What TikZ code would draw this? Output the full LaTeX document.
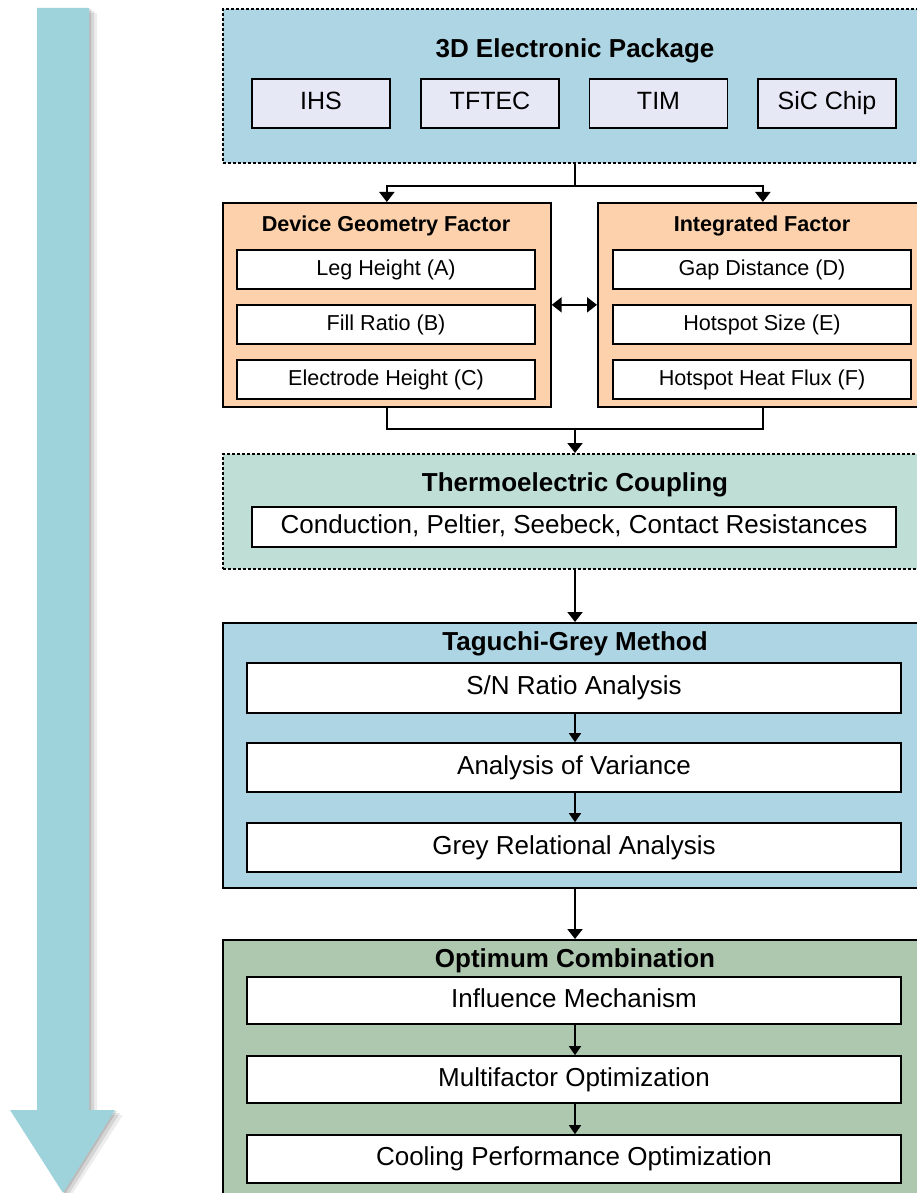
\documentclass[tikz,border=0pt]{standalone}
\usepackage{fontspec}
\setmainfont{Liberation Sans}
\usetikzlibrary{arrows.meta}
\definecolor{pkgblue}{HTML}{AED5E3}
\definecolor{tilelav}{HTML}{E6E8F6}
\definecolor{peach}{HTML}{FDD1AB}
\definecolor{mint}{HTML}{BFDED6}
\definecolor{optgreen}{HTML}{AEC7AF}
\definecolor{flowarrow}{HTML}{9ED3DC}
\begin{document}
\begin{tikzpicture}[x=1pt,y=-1pt,
  outerbox/.style={draw=black, line width=1.7pt, anchor=north west, inner sep=0pt},
  dashbox/.style={outerbox, line width=1.6pt, dash pattern=on 3pt off 2pt},
  tilebox/.style={draw=black, line width=1.6pt, fill=white, inner sep=0pt, align=center},
  big/.style={font=\fontsize{26}{30}\selectfont, text height=18.7pt, text depth=5.5pt},
  mid/.style={font=\fontsize{25}{28}\selectfont, text height=18pt, text depth=5.3pt},
  small/.style={font=\fontsize{21.6}{24}\selectfont, text height=15.5pt, text depth=4.5pt},
  toptile/.style={tilebox, mid, fill=tilelav, minimum width=138pt, minimum height=49pt},
  facttile/.style={tilebox, small, minimum width=298pt, minimum height=39pt},
  bigtile/.style={tilebox, big, minimum width=654pt},
  bigtitle/.style={big, font=\bfseries\fontsize{26}{30}\selectfont, inner sep=0pt},
  facttitle/.style={small, font=\bfseries\fontsize{21.6}{24}\selectfont, inner sep=0pt},
  conn/.style={line width=2pt, draw=black},
  arr/.style={conn, -{Triangle[width=15pt,length=10pt]}},
  smallarr/.style={line width=1.3pt, -{Triangle[width=12pt,length=9pt]}},
  dblarr/.style={conn, {Triangle[width=15pt,length=10pt]}-{Triangle[width=15pt,length=10pt]}}
]
\useasboundingbox (0,0) rectangle (917,1193);

% left flow arrow with soft shadow
\fill[black, opacity=0.07] (44,13) -- (97,13) -- (97,1115) -- (123,1115) -- (69,1199) -- (16,1115) -- (44,1115) -- cycle;
\fill[black, opacity=0.10] (41,11) -- (94,11) -- (94,1113) -- (120,1113) -- (67,1197) -- (14,1113) -- (41,1113) -- cycle;
\fill[black, opacity=0.12] (39,9) -- (91,9) -- (91,1111) -- (117,1111) -- (65,1194) -- (12,1111) -- (39,1111) -- cycle;
\fill[flowarrow] (37,8) -- (89,8) -- (89,1110) -- (115,1110) -- (63,1193) -- (10,1110) -- (37,1110) -- cycle;

% 3D Electronic Package
\node[dashbox, fill=pkgblue, minimum width=706pt, minimum height=154pt] (pkg) at (222,8) {};
\node[bigtitle] (pkgT) at (575,51) {3D Electronic Package};
\node[toptile] (ihs) at (321,103.5) {IHS};
\node[toptile] (tftec) at (490,103.5) {TFTEC};
\node[toptile] (tim) at (658.5,103.5) {TIM};
\node[toptile] (sic) at (827,103.5) {SiC Chip};

% factor boxes
\node[outerbox, fill=peach, minimum width=328pt, minimum height=204pt] (geo) at (222,202) {};
\node[facttitle] (geoT) at (386,226) {Device Geometry Factor};
\node[facttile] (legA) at (386,269.5) {Leg Height (A)};
\node[facttile] (fillB) at (386,324.5) {Fill Ratio (B)};
\node[facttile] (elecC) at (386,379.5) {Electrode Height (C)};

\node[outerbox, fill=peach, minimum width=330pt, minimum height=204pt] (intg) at (597,202) {};
\node[facttitle] (intgT) at (762,226) {Integrated Factor};
\node[facttile] (gapD) at (762,269.5) {Gap Distance (D)};
\node[facttile] (hsE) at (762,324.5) {Hotspot Size (E)};
\node[facttile] (hfF) at (762,379.5) {Hotspot Heat Flux (F)};

% thermoelectric coupling
\node[dashbox, fill=mint, minimum width=706pt, minimum height=115pt] (thermo) at (222,453) {};
\node[bigtitle] (thermoT) at (575,485) {Thermoelectric Coupling};
\node[tilebox, big, minimum width=644pt, minimum height=40pt] (cond) at (574,527) {Conduction, Peltier, Seebeck, Contact Resistances};

% Taguchi-Grey
\node[outerbox, fill=pkgblue, minimum width=706pt, minimum height=265pt] (tag) at (222,622) {};
\node[bigtitle] (tagT) at (575,644) {Taguchi-Grey Method};
\node[bigtile, minimum height=50pt] (sn) at (574,688) {S/N Ratio Analysis};
\node[bigtile, minimum height=49pt] (anova) at (574,767.5) {Analysis of Variance};
\node[bigtile, minimum height=49pt] (gra) at (574,847.5) {Grey Relational Analysis};

% Optimum combination
\node[outerbox, fill=optgreen, minimum width=706pt, minimum height=280pt] (opt) at (222,939) {};
\node[bigtitle] (optT) at (575,961) {Optimum Combination};
\node[bigtile, minimum height=47pt] (infl) at (574,1000.5) {Influence Mechanism};
\node[bigtile, minimum height=47pt] (multi) at (574,1079.5) {Multifactor Optimization};
\node[bigtile, minimum height=48pt] (cool) at (574,1159) {Cooling Performance Optimization};

% connectors
\coordinate (j1) at (575,186);
\coordinate (j2) at (575,429);
\draw[conn] (pkg.south -| j1) -- (j1);
\draw[arr] (j1) -| (geo.north);
\draw[arr] (j1) -| (intg.north);
\draw[dblarr] (geo.east) -- (intg.west);
\draw[conn] (geo.south) |- (j2);
\draw[conn] (intg.south) |- (j2);
\draw[arr] (j2) -- (thermo.north -| j2);
\draw[arr] (thermo.south -| j2) -- (tag.north -| j2);
\draw[arr] (tag.south -| j2) -- (opt.north -| j2);
\draw[smallarr] (sn.south -| j2) -- (anova.north -| j2);
\draw[smallarr] (anova.south -| j2) -- (gra.north -| j2);
\draw[smallarr] (infl.south -| j2) -- (multi.north -| j2);
\draw[smallarr] (multi.south -| j2) -- (cool.north -| j2);
\end{tikzpicture}
\end{document}
